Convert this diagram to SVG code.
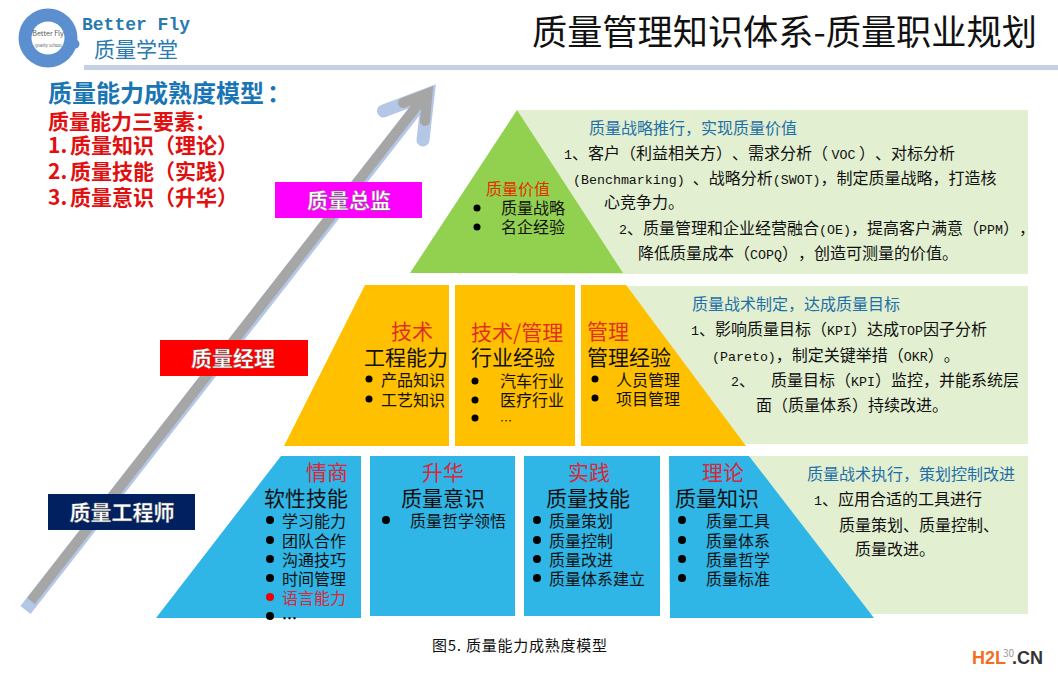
<svg xmlns="http://www.w3.org/2000/svg" width="1058" height="680" viewBox="0 0 1058 680">
<style>
text{font-family:"Noto Sans CJK SC","Liberation Sans",sans-serif;fill:#111;font-kerning:none;text-spacing-trim:space-all}
.m{font-family:"Liberation Mono","Noto Sans CJK SC",monospace;font-size:13.3px}
.b{font-size:16px}
.h{font-size:16px;fill:#1f6fa8}
.t{font-size:21px}
.r{font-size:21px;fill:#e03020}
.rb{font-size:21px;fill:#d9283c}
.l{font-size:16px}
.w{font-size:21px;font-weight:700;fill:#fff;text-anchor:middle;stroke:#555;stroke-width:.3}
.red{font-size:21px;font-weight:700;fill:#e01010}
.dot{fill:#000}
</style>
<rect width="1058" height="680" fill="#fff"/>
<g id="header">
<rect x="84" y="65" width="974" height="5" fill="#c5d0e6"/>
<circle cx="48" cy="38" r="29.500" fill="#5b8fcf"/>
<circle cx="75" cy="44" r="4.500" fill="#5b8fcf"/>
<circle cx="48" cy="38" r="16.500" fill="#fff"/>
<text x="48" y="36" font-size="7" text-anchor="middle" style="fill:#555">Better Fly</text>
<text x="48" y="47" font-size="4" text-anchor="middle" style="fill:#555">Quality School</text>
<text x="82" y="30" font-size="18" font-weight="700" style="font-family:'Liberation Mono',monospace;fill:#2a7ab0">Better Fly</text>
<text x="94" y="57" font-size="21" style="fill:#2a7ab0">质量学堂</text>
<text x="532" y="45" font-size="35.200" style="fill:#111">质量管理知识体系-质量职业规划</text>
</g>
<g id="intro">
<text x="48" y="102" font-size="24" font-weight="700" style="fill:#1a75b5">质量能力成熟度模型<tspan x="267">：</tspan></text>
<text x="48" y="129" class="red">质量能力三要素：</text>
<text x="48" y="153" class="red">1.<tspan x="70">质量知识（理论）</tspan></text>
<text x="48" y="179" class="red">2.<tspan x="70">质量技能（实践）</tspan></text>
<text x="48" y="205" class="red">3.<tspan x="70">质量意识（升华）</tspan></text>
</g>
<g id="connectors" fill="none" stroke-miterlimit="10">
<g stroke="#b4c7e7" stroke-width="13">
<path d="M25.500,610 L428,94"/>
<path d="M383.500,111 L428.200,94 L423,140" stroke-linecap="round"/>
</g>
<g stroke="#a6a6a6" stroke-width="10">
<path d="M31,601 L427,93"/>
<path d="M403,103 L427.500,93.500 L425,121" stroke-linecap="round"/>
</g>
</g>
<g id="director"><rect x="275" y="182" width="147" height="36" fill="#ff00ff"/><text x="349" y="208" class="w">质量总监</text></g>
<g id="manager"><rect x="160" y="340" width="148" height="36" fill="#ff0000"/><text x="233" y="366" class="w">质量经理</text></g>
<g id="engineer"><rect x="48" y="494" width="147" height="36" fill="#002060"/><text x="122" y="520" class="w">质量工程师</text></g>
<g id="top-panel">
<rect x="517" y="110" width="511" height="164" fill="#e2efd0"/>
<polygon points="517,110 410,273 623,273" fill="#92d050"/>
<text x="486" y="195" font-size="16" style="fill:#e03000">质量价值</text>
<circle cx="477" cy="208" r="3.500" class="dot"/><text x="501" y="214" class="b">质量战略</text>
<circle cx="477" cy="227" r="3.500" class="dot"/><text x="501" y="233" class="b">名企经验</text>
<text x="589" y="134" class="h">质量战略推行，实现质量价值</text>
<text x="564" y="159" class="b"><tspan class="m">1</tspan>、客户（利益相关方）、需求分析（ <tspan class="m">VOC</tspan> ）、对标分析</text>
<text x="573" y="184" class="b"><tspan class="m">(Benchmarking) </tspan>、战略分析<tspan class="m">(SWOT)</tspan>，制定质量战略，打造核</text>
<text x="604" y="208" class="b">心竞争力。</text>
<text x="619" y="234" class="b"><tspan class="m">2</tspan>、质量管理和企业经营融合<tspan class="m">(OE)</tspan>，提高客户满意（<tspan class="m">PPM</tspan>），</text>
<text x="638" y="259" class="b">降低质量成本（<tspan class="m">COPQ</tspan>），创造可测量的价值。</text>
</g>
<g id="mid-panel">
<rect x="600" y="286" width="428" height="158" fill="#e2efd0"/>
<polygon points="365,285 449,285 449,446 284,446" fill="#ffc000"/>
<rect x="455" y="285" width="120" height="161" fill="#ffc000"/>
<polygon points="581,285 626,285 746,446 581,446" fill="#ffc000"/>
<text x="391" y="339" class="r">技术</text>
<text x="364" y="365" class="t">工程能力</text>
<circle cx="369" cy="379" r="3.500" class="dot"/><text x="381" y="386" class="l">产品知识</text>
<circle cx="369" cy="399" r="3.500" class="dot"/><text x="381" y="406" class="l">工艺知识</text>
<text x="471" y="340" class="r">技术/管理</text>
<text x="471" y="365" class="t">行业经验</text>
<circle cx="475" cy="381" r="3.500" class="dot"/><text x="500" y="387" class="l">汽车行业</text>
<circle cx="475" cy="400" r="3.500" class="dot"/><text x="500" y="406" class="l">医疗行业</text>
<circle cx="475" cy="418" r="3.500" class="dot"/><text x="500" y="426" font-size="12">…</text>
<text x="587" y="339" class="r">管理</text>
<text x="587" y="365" class="t">管理经验</text>
<circle cx="595" cy="379" r="3.500" class="dot"/><text x="616" y="386" class="l">人员管理</text>
<circle cx="595" cy="398" r="3.500" class="dot"/><text x="616" y="405" class="l">项目管理</text>
<text x="692" y="310" class="h">质量战术制定，达成质量目标</text>
<text x="691" y="335" class="b"><tspan class="m">1</tspan>、影响质量目标（<tspan class="m">KPI</tspan>）达成<tspan class="m">TOP</tspan>因子分析</text>
<text x="712" y="361" class="b"><tspan class="m">(Pareto)</tspan>，制定关键举措（<tspan class="m">OKR</tspan>）。</text>
<text x="731" y="386" class="b"><tspan class="m">2</tspan>、<tspan x="771">质量目标（</tspan><tspan class="m">KPI</tspan>）监控，并能系统层</text>
<text x="756" y="411" class="b">面（质量体系）持续改进。</text>
</g>
<g id="base-panel">
<rect x="750" y="456" width="278" height="158" fill="#e2efd0"/>
<polygon points="281,456 361,456 361,618 156,618" fill="#2fb5e6"/>
<rect x="370" y="456" width="145" height="160" fill="#2fb5e6"/>
<rect x="524" y="456" width="136" height="160" fill="#2fb5e6"/>
<polygon points="669,456 749,456 874,618 670,618" fill="#2fb5e6"/>
<text x="306" y="480" class="rb">情商</text>
<text x="264" y="506" class="t">软性技能</text>
<circle cx="270" cy="520" r="4" class="dot"/><text x="282" y="527" class="l">学习能力</text>
<circle cx="270" cy="540" r="4" class="dot"/><text x="282" y="547" class="l">团队合作</text>
<circle cx="270" cy="559" r="4" class="dot"/><text x="282" y="566" class="l">沟通技巧</text>
<circle cx="270" cy="578" r="4" class="dot"/><text x="282" y="585" class="l">时间管理</text>
<circle cx="270" cy="597" r="4" fill="#f00000"/><text x="282" y="604" class="l" style="fill:#d9283c">语言能力</text>
<circle cx="270" cy="616" r="4" class="dot"/><text x="282" y="624" font-size="15" font-weight="700">…</text>
<text x="422" y="480" class="rb">升华</text>
<text x="401" y="506" class="t">质量意识</text>
<circle cx="386" cy="520" r="4" class="dot"/><text x="410" y="527" class="l">质量哲学领悟</text>
<text x="568" y="480" class="rb">实践</text>
<text x="546" y="506" class="t">质量技能</text>
<circle cx="537" cy="520" r="4" class="dot"/><text x="549" y="527" class="l">质量策划</text>
<circle cx="537" cy="540" r="4" class="dot"/><text x="549" y="547" class="l">质量控制</text>
<circle cx="537" cy="559" r="4" class="dot"/><text x="549" y="566" class="l">质量改进</text>
<circle cx="537" cy="578" r="4" class="dot"/><text x="549" y="585" class="l">质量体系建立</text>
<text x="702" y="480" class="rb">理论</text>
<text x="675" y="506" class="t">质量知识</text>
<circle cx="682" cy="520" r="4" class="dot"/><text x="706" y="527" class="l">质量工具</text>
<circle cx="682" cy="540" r="4" class="dot"/><text x="706" y="547" class="l">质量体系</text>
<circle cx="682" cy="559" r="4" class="dot"/><text x="706" y="566" class="l">质量哲学</text>
<circle cx="682" cy="578" r="4" class="dot"/><text x="706" y="585" class="l">质量标准</text>
<text x="807" y="480" class="h">质量战术执行，策划控制改进</text>
<text x="814" y="505" class="b"><tspan class="m">1</tspan>、应用合适的工具进行</text>
<text x="839" y="531" class="b">质量策划、质量控制、</text>
<text x="855" y="555" class="b">质量改进。</text>
</g>
<g id="footer">
<text x="432" y="651" font-size="15" textLength="175">图5. 质量能力成熟度模型</text>
<text x="1003" y="657" font-size="10" style="fill:#999">30</text>
<text x="972" y="664" font-size="18" font-weight="700" style="font-family:'Liberation Sans',sans-serif;fill:#f07020">H2L</text>
<text x="1012" y="664" font-size="18" font-weight="700" style="font-family:'Liberation Sans',sans-serif;fill:#333">.CN</text>
</g>
</svg>
